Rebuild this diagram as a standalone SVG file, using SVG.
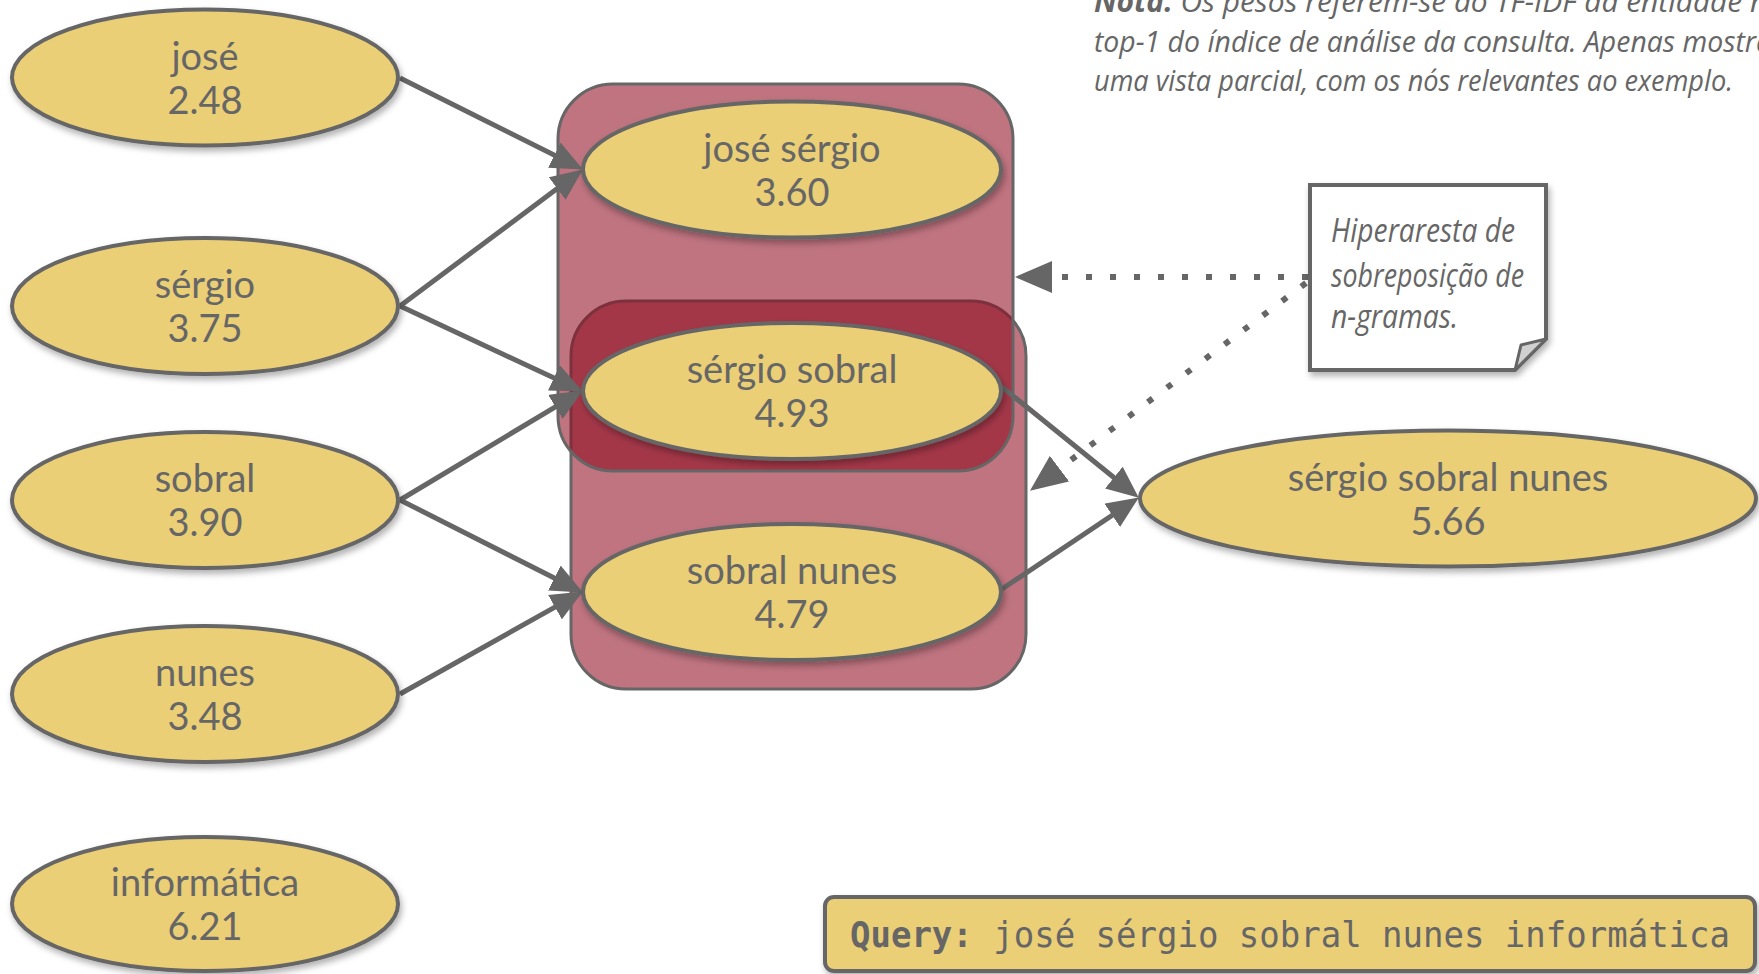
<svg xmlns="http://www.w3.org/2000/svg" width="1759" height="974" viewBox="0 0 1759 974">
<style>
.node ellipse{fill:#eacf77;stroke:#666;stroke-width:4;filter:url(#sh)}
.lbl{font-family:Lato,"Noto Sans",sans-serif;font-size:38px;fill:#666;text-anchor:middle}
.edge{stroke:#666;stroke-width:5;fill:none;marker-end:url(#ah)}
.dot{stroke:#666;stroke-width:6;fill:none;stroke-dasharray:6 18;marker-end:url(#dah)}
.hedge{fill:#8d081d;fill-opacity:0.56;stroke:#666;stroke-width:3}
.hand{font-family:"Open Sans","Noto Sans",sans-serif;font-style:italic;font-size:33px;fill:#666}
.top{font-size:30px}
.mono{font-family:"DejaVu Sans Mono","Liberation Mono",monospace;font-size:35px;fill:#666}
</style>
<defs>
<filter id="sh" x="-10%" y="-10%" width="125%" height="135%">
<feDropShadow dx="2" dy="4" stdDeviation="3" flood-color="#000" flood-opacity="0.3"/>
</filter>
<marker id="ah" markerUnits="userSpaceOnUse" markerWidth="32" markerHeight="28" refX="21" refY="14" orient="auto">
<path d="M0,0 L32,14 L0,28 z" fill="#666"/>
</marker>
<marker id="dah" markerUnits="userSpaceOnUse" markerWidth="37" markerHeight="32" refX="0" refY="16" orient="auto">
<path d="M0,0 L37,16 L0,32 z" fill="#666"/>
</marker>
</defs>
<rect width="1759" height="974" fill="#fff"/>

<g id="note-top">
<text class="hand top" x="1094" y="12" textLength="690" lengthAdjust="spacingAndGlyphs"><tspan font-weight="bold">Nota:</tspan> Os pesos referem-se ao TF-IDF da entidade no</text>
<text class="hand top" x="1094" y="52" textLength="678" lengthAdjust="spacingAndGlyphs">top-1 do índice de análise da consulta. Apenas mostra</text>
<text class="hand top" x="1094" y="91" textLength="639" lengthAdjust="spacingAndGlyphs">uma vista parcial, com os nós relevantes ao exemplo.</text>
</g>

<g id="hyperedges">
<rect id="hyperedge-2" class="hedge" x="571" y="301" width="455" height="388" rx="55" ry="55"/>
<rect id="hyperedge-1" class="hedge" x="558" y="84" width="455" height="387" rx="55" ry="55"/>
</g>

<g id="connectors">
<line class="edge" x1="400" y1="78" x2="573.1" y2="164.5"/>
<line class="edge" x1="400" y1="306" x2="574" y2="176"/>
<line class="edge" x1="400" y1="306" x2="572.9" y2="386.8"/>
<line class="edge" x1="400" y1="500" x2="573.4" y2="396.1"/>
<line class="edge" x1="400" y1="500" x2="573.1" y2="587.5"/>
<line class="edge" x1="400" y1="694" x2="573.3" y2="596.9"/>
<line class="edge" x1="1002" y1="387" x2="1130.2" y2="490.8"/>
<line class="edge" x1="1002" y1="589" x2="1129.7" y2="503.6"/>
<line class="dot" x1="1308" y1="277" x2="1052" y2="277"/>
<line class="dot" x1="1306" y1="283" x2="1059.5" y2="468.6"/>
</g>

<g id="node-jose" class="node"><ellipse cx="205" cy="77.5" rx="193" ry="68"/><text class="lbl" x="205" y="70">josé</text><text class="lbl" x="205" y="114">2.48</text></g>
<g id="node-sergio" class="node"><ellipse cx="205" cy="306" rx="193" ry="68"/><text class="lbl" x="205" y="298">sérgio</text><text class="lbl" x="205" y="342">3.75</text></g>
<g id="node-sobral" class="node"><ellipse cx="205" cy="500" rx="193" ry="68"/><text class="lbl" x="205" y="492">sobral</text><text class="lbl" x="205" y="536">3.90</text></g>
<g id="node-nunes" class="node"><ellipse cx="205" cy="694" rx="193" ry="68"/><text class="lbl" x="205" y="686">nunes</text><text class="lbl" x="205" y="730">3.48</text></g>
<g id="node-informatica" class="node"><ellipse cx="205" cy="904" rx="193" ry="67"/><text class="lbl" x="205" y="896">informática</text><text class="lbl" x="205" y="940">6.21</text></g>

<g id="node-jose-sergio" class="node"><ellipse cx="792" cy="169.5" rx="209" ry="68"/><text class="lbl" x="792" y="162">josé sérgio</text><text class="lbl" x="792" y="206">3.60</text></g>
<g id="node-sergio-sobral" class="node"><ellipse cx="792" cy="391" rx="209" ry="68"/><text class="lbl" x="792" y="383">sérgio sobral</text><text class="lbl" x="792" y="427">4.93</text></g>
<g id="node-sobral-nunes" class="node"><ellipse cx="792" cy="592" rx="209" ry="68"/><text class="lbl" x="792" y="584">sobral nunes</text><text class="lbl" x="792" y="628">4.79</text></g>

<g id="node-sergio-sobral-nunes" class="node"><ellipse cx="1448" cy="498.5" rx="308" ry="68"/><text class="lbl" x="1448" y="491">sérgio sobral nunes</text><text class="lbl" x="1448" y="535">5.66</text></g>

<g id="note-hyperedge">
<path d="M1310,185 L1546,185 L1546,339 L1515,370 L1310,370 z" fill="#fff" stroke="#666" stroke-width="4" filter="url(#sh)"/>
<path d="M1515,370 L1521,345 L1546,339 z" fill="#d0d0d0" stroke="#666" stroke-width="3" stroke-linejoin="round"/>
<text class="hand" x="1331" y="242" textLength="184" lengthAdjust="spacingAndGlyphs">Hiperaresta de</text>
<text class="hand" x="1331" y="287" textLength="193" lengthAdjust="spacingAndGlyphs">sobreposição de</text>
<text class="hand" x="1331" y="328" textLength="127" lengthAdjust="spacingAndGlyphs">n-gramas.</text>
</g>

<g id="query">
<rect x="825" y="897" width="930" height="74" rx="9" ry="9" fill="#eacf77" stroke="#666" stroke-width="4" filter="url(#sh)"/>
<text class="mono" x="850" y="947" textLength="880" lengthAdjust="spacingAndGlyphs"><tspan font-weight="bold">Query:</tspan> josé sérgio sobral nunes informática</text>
</g>
</svg>
